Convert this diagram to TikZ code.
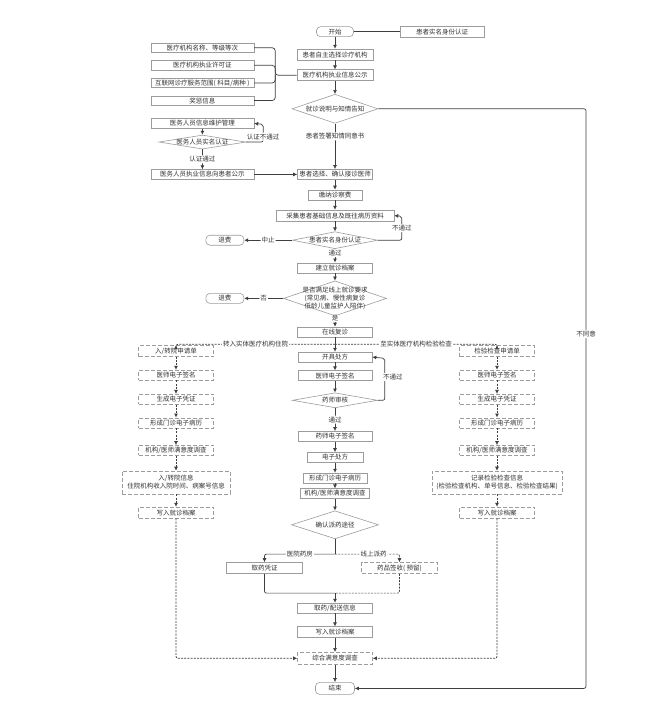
\documentclass[tikz,border=0pt]{standalone}
\usepackage{fontspec}
\newfontfamily\cjk{Noto Sans CJK SC}
\usetikzlibrary{positioning, shapes.geometric, arrows.meta}
\definecolor{edgegray}{HTML}{9C9C9C}
\definecolor{conngray}{HTML}{3F3F3F}
\definecolor{textgray}{HTML}{333333}

\begin{document}
\begin{tikzpicture}[x=1pt, y=-1pt,
        font=\cjk\fontsize{6.5}{8}\selectfont, text=textgray,
        flowbox/.style={rectangle, draw=edgegray, line width=0.6pt, fill=white, inner sep=1pt, minimum height=10pt, align=center},
        dashbox/.style={flowbox, dash pattern=on 4pt off 2pt},
        endbox/.style={flowbox, rounded corners=4pt},
        decision/.style={diamond, draw=edgegray, line width=0.6pt, fill=white, inner sep=0pt},
        conn/.style={draw=conngray, line width=0.7pt, rounded corners=2pt},
        dconn/.style={conn, dash pattern=on 2pt off 1.2pt},
        flowarrow/.style={conn, -{Latex[length=4pt, width=4pt]}},
        dasharrow/.style={flowarrow, dash pattern=on 2pt off 1.2pt},
        edgetext/.style={fill=white, inner sep=1pt}
    ]
    \path[fill=white, use as bounding box] (0,0) rectangle (648,709);

    % Main column
    \node[endbox, minimum width=37pt] (kaishi) at (335,31.7) {开始};
    \node[flowbox, minimum width=84pt, minimum height=11pt, right=46pt of kaishi] (shenfen) {患者实名身份认证};
    \node[flowbox, minimum width=76pt, minimum height=11pt, below=11.8pt of kaishi] (zizhu) {患者自主选择诊疗机构};
    \node[flowbox, minimum width=76pt, minimum height=11pt, below=9pt of zizhu] (gongshi) {医疗机构执业信息公示};
    \node[decision, minimum width=86pt, minimum height=29pt, below=13pt of gongshi, label=center:就诊说明与知情告知] (zhiqing) {};
    \node[flowbox, minimum width=75pt, below=45.5pt of zhiqing] (queren) {患者选择、确认接诊医师};
    \node[flowbox, minimum width=54pt, below=10pt of queren] (jiaofei) {缴纳诊察费};
    \node[flowbox, minimum width=118pt, minimum height=11pt, below=9.5pt of jiaofei] (caiji) {采集患者基础信息及既往病历资料};
    \node[decision, minimum width=85pt, minimum height=17pt, below=10pt of caiji, label=center:患者实名身份认证] (shiming) {};
    \node[endbox, minimum width=38pt, left=48pt of shiming] (tuifeia) {退费};
    \node[flowbox, minimum width=75pt, below=13.5pt of shiming] (dangan) {建立就诊档案};
    \node[decision, minimum width=103pt, minimum height=35pt, below=7.5pt of dangan,
        label={[align=center]center:是否满足线上就诊要求\\(常见病、慢性病复诊\\低龄儿童监护人陪伴)}] (manzu) {};
    \node[endbox, minimum width=38pt, left=39pt of manzu] (tuifeib) {退费};
    \node[flowbox, minimum width=75pt, below=10.5pt of manzu] (fuzhen) {在线复诊};
    \node[flowbox, minimum width=74pt, below=14.5pt of fuzhen] (kaiju) {开具处方};
    \node[flowbox, minimum width=74pt, below=8pt of kaiju] (qianming) {医师电子签名};
    \node[decision, minimum width=85pt, minimum height=15pt, below=11.5pt of qianming, label=center:药师审核] (shenhe) {};
    \node[flowbox, minimum width=74pt, below=23pt of shenhe] (yaoshi) {药师电子签名};
    \node[flowbox, minimum width=56pt, below=10.5pt of yaoshi] (chufang) {电子处方};
    \node[flowbox, minimum width=64pt, below=10pt of chufang] (bingli) {形成门诊电子病历};
    \node[flowbox, minimum width=69pt, below=5pt of bingli] (manyi) {机构/医师满意度调查};
    \node[decision, minimum width=87pt, minimum height=28pt, below=11.5pt of manyi, label=center:确认派药途径] (paiyao) {};
    \node[flowbox, minimum width=75.6pt, minimum height=11pt] (quyao) at (264.5,568) {取药凭证};
    \node[dashbox, minimum width=75.6pt, minimum height=11pt] (qianshou) at (399.5,568) {药品签收( 预留)};
    \node[flowbox, minimum width=75pt, below=63.7pt of paiyao] (peisong) {取药/配送信息};
    \node[flowbox, minimum width=75pt, minimum height=11pt, below=13pt of peisong] (xieru) {写入就诊档案};
    \node[dashbox, minimum width=75pt, minimum height=12pt, below=14pt of xieru] (zonghe) {综合满意度调查};
    \node[endbox, minimum width=39pt, minimum height=12pt, below=17.5pt of zonghe] (jieshu) {结束};

    % Left upper group
    \node[flowbox, minimum width=103pt, minimum height=9.5pt, left=43pt of queren] (ywgs) {医务人员执业信息向患者公示};
    \node[decision, minimum width=87pt, minimum height=14pt, above=20pt of ywgs, label=center:医务人员实名认证] (ywrz) {};
    \node[flowbox, minimum width=103pt, minimum height=9.5pt, above=6.25pt of ywrz] (ywwh) {医务人员信息维护管理};
    \node[flowbox, minimum width=103pt, minimum height=9.5pt, above=12.8pt of ywwh] (jgd) {奖惩信息};
    \node[flowbox, minimum width=103pt, minimum height=9.5pt, above=7.5pt of jgd] (jgc) {互联网诊疗服务范围( 科目/病种 )};
    \node[flowbox, minimum width=103pt, minimum height=9.5pt, above=7.5pt of jgc] (jgb) {医疗机构执业许可证};
    \node[flowbox, minimum width=103pt, minimum height=9.5pt, above=7.5pt of jgb] (jga) {医疗机构名称、等级等次};

    % Left column (hospital)
    \node[dashbox, minimum width=75pt, minimum height=11pt] (ruyuan) at (176,351) {入/转院申请单};
    \node[dashbox, minimum width=75pt, below=13pt of ruyuan] (lsign) {医师电子签名};
    \node[dashbox, minimum width=75pt, below=13.5pt of lsign] (lpz) {生成电子凭证};
    \node[dashbox, minimum width=75pt, below=13pt of lpz] (lbl) {形成门诊电子病历};
    \node[dashbox, minimum width=75pt, below=17pt of lbl] (lmy) {机构/医师满意度调查};
    \node[dashbox, minimum width=108pt, minimum height=23pt, below=15pt of lmy] (lrxx) {入/转院信息\\住院机构收入院时间、病案号信息};
    \node[dashbox, minimum width=75pt, minimum height=11pt, below=12.5pt of lrxx] (lxr) {写入就诊档案};

    % Right column (tests)
    \node[dashbox, minimum width=75pt, minimum height=11pt] (jianyan) at (497,351) {检验检查申请单};
    \node[dashbox, minimum width=75pt, below=13pt of jianyan] (rsign) {医师电子签名};
    \node[dashbox, minimum width=75pt, below=13.5pt of rsign] (rpz) {生成电子凭证};
    \node[dashbox, minimum width=75pt, below=13pt of rpz] (rbl) {形成门诊电子病历};
    \node[dashbox, minimum width=75pt, below=17pt of rbl] (rmy) {机构/医师满意度调查};
    \node[dashbox, minimum width=130pt, minimum height=23pt, below=15pt of rmy] (rjl) {记录检验检查信息\\(检验检查机构、单号信息、检验检查结果)};
    \node[dashbox, minimum width=75pt, minimum height=11pt, below=12.5pt of rjl] (rxr) {写入就诊档案};

    % Helper points
    \coordinate[left=21.5pt of gongshi.west] (bus);
    \coordinate[below=7pt of fuzhen] (split);
    \coordinate[below=15pt of paiyao] (pyfork);
    \coordinate[above=9.7pt of peisong] (merge);
    \coordinate (butongyi) at (586,334);

    % Relationships
    \draw[conn] (kaishi) -- (shenfen);
    \draw[flowarrow] (kaishi) -- (zizhu);
    \draw[flowarrow] (zizhu) -- (gongshi);
    \draw[flowarrow] (gongshi) -- (zhiqing);
    \draw[flowarrow] (zhiqing) -- node[edgetext, pos=0.28]{患者签署知情同意书} (queren);
    \draw[flowarrow] (zhiqing.east) -| (butongyi) node[edgetext]{不同意} |- (jieshu.east);

    \draw[conn, rounded corners=3pt] (jga.east) -| (bus) -- (gongshi.west);
    \draw[conn, rounded corners=3pt] (jgb.east) -| (bus);
    \draw[conn, rounded corners=3pt] (jgc.east) -| (bus);
    \draw[conn, rounded corners=3pt] (jgd.east) -| (bus);

    \draw[flowarrow] (ywwh) -- (ywrz);
    \draw[flowarrow] (ywrz.east) -- ++(17,0) -- node[edgetext, pos=0.3]{认证不通过} ++(0,-17.75) -- (ywwh.east);
    \draw[flowarrow] (ywrz) -- node[edgetext]{认证通过} (ywgs);
    \draw[flowarrow] (ywgs) -- (queren);

    \draw[flowarrow] (queren) -- (jiaofei);
    \draw[flowarrow] (jiaofei) -- (caiji);
    \draw[flowarrow] (caiji) -- (shiming);
    \draw[flowarrow] (shiming.east) -- ++(24,0) -- node[edgetext]{不通过} ++(0,-24) -- (caiji.east);
    \draw[flowarrow] (shiming) -- node[edgetext]{中止} (tuifeia);
    \draw[flowarrow] (shiming) -- node[edgetext, pos=0.3]{通过} (dangan);
    \draw[flowarrow] (dangan) -- (manzu);
    \draw[flowarrow] (manzu) -- node[edgetext]{否} (tuifeib);
    \draw[flowarrow] (manzu) -- node[edgetext, pos=0.2]{是} (fuzhen);

    \draw[flowarrow] (fuzhen) -- (kaiju);
    \draw[dasharrow] (split) -| node[edgetext, pos=0.25]{转入实体医疗机构住院} (ruyuan.north);
    \draw[dasharrow] (split) -| node[edgetext, pos=0.25]{至实体医疗机构检验检查} (jianyan.north);

    \draw[flowarrow] (kaiju) -- (qianming);
    \draw[flowarrow] (qianming) -- (shenhe);
    \draw[flowarrow] (shenhe.east) -- ++(7,0) -- node[edgetext, pos=0.55, anchor=west, xshift=-3pt]{不通过} ++(0,-42) -- (kaiju.east);
    \draw[flowarrow] (shenhe) -- node[edgetext]{通过} (yaoshi);
    \draw[flowarrow] (yaoshi) -- (chufang);
    \draw[flowarrow] (chufang) -- (bingli);
    \draw[flowarrow] (bingli) -- (manyi);
    \draw[flowarrow] (manyi) -- (paiyao);

    \draw[conn] (paiyao) -- (pyfork);
    \draw[flowarrow] (pyfork) -| node[edgetext, pos=0.25]{医院药房} (quyao.north);
    \draw[dasharrow] (pyfork) -| node[edgetext, pos=0.3]{线上派药} (qianshou.north);
    \draw[conn] (quyao.south) |- (merge);
    \draw[dconn] (qianshou.south) |- (merge);
    \draw[flowarrow] (merge) -- (peisong);
    \draw[flowarrow] (peisong) -- (xieru);
    \draw[flowarrow] (xieru) -- (zonghe);
    \draw[flowarrow] (zonghe) -- (jieshu);

    \draw[dasharrow] (ruyuan) -- (lsign);
    \draw[dasharrow] (lsign) -- (lpz);
    \draw[dasharrow] (lpz) -- (lbl);
    \draw[dasharrow] (lbl) -- (lmy);
    \draw[dasharrow] (lmy) -- (lrxx);
    \draw[dasharrow] (lrxx) -- (lxr);
    \draw[dasharrow] (lxr.south) |- (zonghe.west);

    \draw[dasharrow] (jianyan) -- (rsign);
    \draw[dasharrow] (rsign) -- (rpz);
    \draw[dasharrow] (rpz) -- (rbl);
    \draw[dasharrow] (rbl) -- (rmy);
    \draw[dasharrow] (rmy) -- (rjl);
    \draw[dasharrow] (rjl) -- (rxr);
    \draw[dasharrow] (rxr.south) |- (zonghe.east);

\end{tikzpicture}
\end{document}
